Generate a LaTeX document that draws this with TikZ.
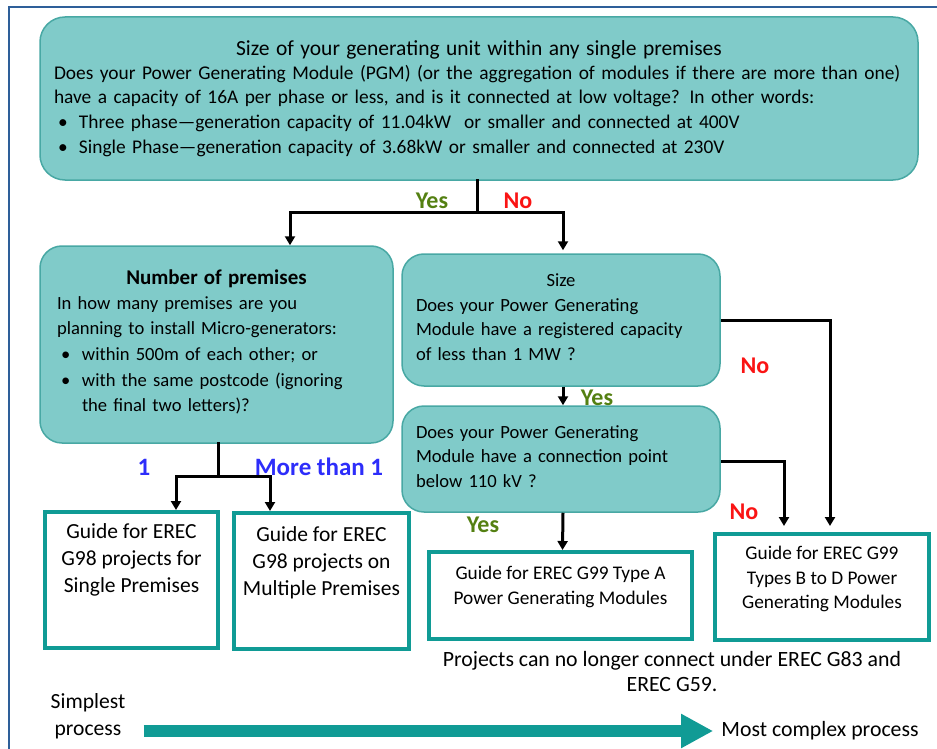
\documentclass[tikz,border=0pt]{standalone}
\usepackage{fontspec}
\setmainfont{Carlito}
\usetikzlibrary{arrows.meta,positioning}
\definecolor{boxfill}{RGB}{128,203,201}
\definecolor{boxline}{RGB}{72,168,164}
\definecolor{guideline}{RGB}{16,155,149}
\definecolor{frameblue}{RGB}{46,95,153}
\definecolor{yesgreen}{RGB}{84,128,18}
\definecolor{nored}{RGB}{250,20,20}
\definecolor{countblue}{RGB}{45,45,250}
\newcommand{\bul}[1]{\par\vspace{1pt}\noindent\makebox[25pt][l]{\hspace{4pt}\textbullet}\parbox[t]{\dimexpr\linewidth-25pt\relax}{\raggedright #1}}
\newcommand{\padbelow}[1]{\par\vspace{#1}\nointerlineskip\hbox{}}

\begin{document}
\begin{tikzpicture}[x=1pt,y=-1pt]
\tikzstyle{every node}+=[inner sep=0pt, font=\fontsize{18.6}{24.5}\selectfont]
\tikzstyle{question}=[draw=boxline, fill=boxfill, line width=1.5pt, rounded corners=22pt, align=left]
\tikzstyle{guide}=[draw=guideline, line width=4pt, fill=white]
\tikzstyle{guidetext}=[align=center, font=\fontsize{19.3}{24.5}\selectfont]
\tikzstyle{wire}=[line width=3pt, line cap=rect]
\tikzstyle{conn}=[line width=3pt, -{Triangle[length=9pt,width=10pt]}]
\tikzstyle{yes}=[text=yesgreen, font=\fontsize{24}{26}\selectfont\bfseries]
\tikzstyle{no}=[text=nored, font=\fontsize{24}{26}\selectfont\bfseries]
\tikzstyle{count}=[text=countblue, font=\fontsize{25}{26}\selectfont\bfseries]
\tikzstyle{bigarrow}=[draw=guideline, line width=12pt, -{Triangle[length=32pt,width=32pt]}]
\useasboundingbox (0,0) rectangle (937,749);
\draw [frameblue, line width=2pt] (9,749) -- (9,7) -- (937,7);
\node [question, rounded corners=25pt, minimum width=878pt, minimum height=163pt, text width=850pt, inner xsep=14pt, font=\fontsize{19.4}{24}\selectfont] (top) at (479,98.5) {\makebox[\linewidth][c]{\fontsize{21.5}{24}\selectfont Size of your generating unit within any single premises}\\Does your Power Generating Module (PGM) (or the aggregation of modules if there are more than one)\\have a capacity of 16A per phase or less, and is it connected at low voltage? In other words:\bul{Three phase---generation capacity of 11.04kW\ \ or smaller and connected at 400V}\bul{Single Phase---generation capacity of 3.68kW or smaller and connected at 230V}};
\node [question, minimum width=353pt, minimum height=197pt, text width=319pt, inner xsep=17pt, font=\fontsize{18.6}{25}\selectfont] (prem) at (216.5,344.5) {\makebox[\linewidth][c]{\fontsize{21}{25}\selectfont\bfseries Number of premises}\\In how many premises are you\\planning to install Micro-generators:\bul{within 500m of each other; or}\bul{with the same postcode (ignoring\\the final two letters)?}\padbelow{5pt}};
\node [question, minimum width=318pt, minimum height=132pt, text width=290pt, inner xsep=14pt] (size) at (561,320) {\makebox[\linewidth][c]{Size}\\Does your Power Generating\\Module have a registered capacity\\of less than 1 MW ?\padbelow{6pt}};
\node [question, minimum width=318pt, minimum height=106pt, text width=290pt, inner xsep=14pt] (conn) at (561,459) {Does your Power Generating\\Module have a connection point\\below 110 kV ?\padbelow{5pt}};
\node [guide, minimum width=173pt, minimum height=136pt] (gsingle) at (131.5,580) {};
\node [guide, minimum width=175pt, minimum height=136pt] (gmulti) at (321.5,581) {};
\node [guide, minimum width=263pt, minimum height=87pt] (gtypea) at (560.5,595.5) {};
\node [guide, minimum width=214pt, minimum height=106pt] (gbd) at (822,587) {};
\node [guidetext, font=\fontsize{21.5}{27}\selectfont, below=13pt of gsingle.north] (tsingle) {Guide for EREC\\G98 projects for\\Single Premises};
\node [guidetext, font=\fontsize{21.5}{27}\selectfont, below=15pt of gmulti.north] (tmulti) {Guide for EREC\\G98 projects on\\Multiple Premises};
\node [guidetext, below=16pt of gtypea.north] (ttypea) {Guide for EREC G99 Type A\\Power Generating Modules};
\node [guidetext, below=14pt of gbd.north] (tbd) {Guide for EREC G99\\Types B to D Power\\Generating Modules};
\coordinate (fork1) at (477,212);
\coordinate (fork2) at (218,476);
\draw [wire] (top.south -| fork1) -- (fork1);
\draw [conn] (fork1) -| ([xshift=73.5pt]prem.north);
\draw [conn, shorten >=3pt] (fork1) -| ([xshift=2pt]size.north);
\draw [conn] ([xshift=2pt]size.south) -- ([xshift=2pt]conn.north);
\draw [conn, shorten >=6pt] (size.east) -| ([xshift=8pt]gbd.north);
\draw [conn, shorten >=6pt] ([yshift=-2pt]conn.east) -| ([xshift=-38pt]gbd.north);
\draw [conn] ([xshift=2pt]conn.south) -- ([xshift=2pt]gtypea.north);
\draw [wire] (prem.south -| fork2) -- (fork2);
\draw [conn] (fork2) -| ([xshift=44.5pt]gsingle.north);
\draw [conn] (fork2) -| ([xshift=-51.5pt]gmulti.north);
\node [yes] (yes1) at (432,201) {Yes};
\node [no] (no1) at (518,201) {No};
\node [yes] (yes2) at (597,398) {Yes};
\node [no] (no2) at (755,366) {No};
\node [no] (no3) at (744,512) {No};
\node [yes] (yes3) at (483,525) {Yes};
\node [count] (one) at (144,467) {1};
\node [count] (more) at (319,467) {More than 1};
\node [align=center, font=\fontsize{21.8}{25}\selectfont] (note) at (672,672) {Projects can no longer connect under EREC G83 and\\EREC G59.};
\node [align=center, font=\fontsize{21.6}{27}\selectfont] (simple) at (88,716) {Simplest\\process};
\node [font=\fontsize{21.8}{25}\selectfont] (complex) at (820,731) {Most complex process};
\draw [bigarrow] ([xshift=18pt]simple.east |- complex.west) -- ([xshift=-8pt]complex.west);
\end{tikzpicture}
\end{document}
